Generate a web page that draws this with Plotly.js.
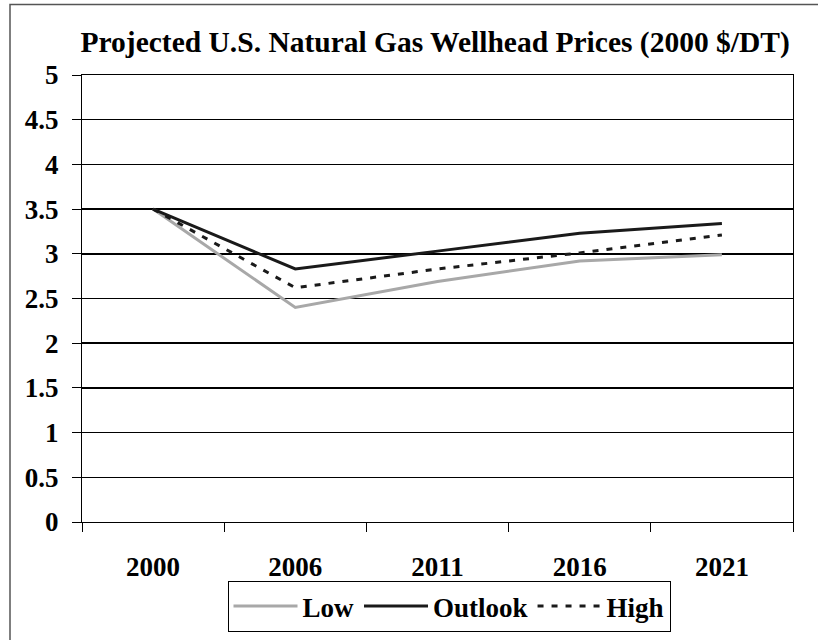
<!DOCTYPE html>
<html>
<head>
<meta charset="utf-8">
<script src="https://cdn.plot.ly/plotly-3.0.1.min.js"></script>
<style>
html,body{margin:0;padding:0;background:#fff;}
#chart{width:818px;height:640px;}
</style>
</head>
<body>
<div id="chart"></div>
<script>
const years = ["2000", "2006", "2011", "2016", "2021"];
const lowValues = [3.5, 2.40, 2.69, 2.92, 2.99];
const outlookValues = [3.5, 2.83, 3.03, 3.23, 3.34];
const highValues = [3.5, 2.62, 2.83, 3.01, 3.21];
const yTickValues = [0, 0.5, 1, 1.5, 2, 2.5, 3, 3.5, 4, 4.5, 5];
const yTickLabels = ["0", "0.5", "1", "1.5", "2", "2.5", "3", "3.5", "4", "4.5", "5"];

const serif = "Liberation Serif, Times New Roman, serif";

const traces = [
  {x: years, y: lowValues, name: "Low", type: "scatter", mode: "lines",
   line: {color: "#a8a8a8", width: 3}},
  {x: years, y: outlookValues, name: "Outlook", type: "scatter", mode: "lines",
   line: {color: "#1a1a1a", width: 3}},
  {x: years, y: highValues, name: "High", type: "scatter", mode: "lines",
   line: {color: "#1a1a1a", width: 3, dash: "6px,8px"}}
];

const layout = {
  width: 818, height: 640,
  paper_bgcolor: "#fff", plot_bgcolor: "#fff",
  margin: {l: 82, r: 25, t: 75, b: 118},
  showlegend: true,
  title: {text: "<b>Projected U.S. Natural Gas Wellhead Prices (2000 $/DT)</b>",
          font: {family: serif, size: 29.5, color: "#000"},
          x: 0.532, xanchor: "center", y: 0.935, yanchor: "middle"},
  xaxis: {type: "category", range: [-0.5, 4.5], tickson: "boundaries", automargin: false,
          ticks: "outside", ticklen: 9, tickcolor: "#000", tickwidth: 1,
          showline: true, linecolor: "#000", linewidth: 1, mirror: true,
          showgrid: false, zeroline: false, ticklabelstandoff: 21,
          tickfont: {family: serif, size: 27, color: "#000", weight: "bold"}},
  yaxis: {range: [0, 5], tickvals: yTickValues, ticktext: yTickLabels, automargin: false,
          ticks: "outside", ticklen: 9, tickcolor: "#000", tickwidth: 1,
          showline: true, linecolor: "#000", linewidth: 1, mirror: true,
          showgrid: true, gridcolor: "#000", gridwidth: 1.5, zeroline: false,
          ticklabelstandoff: 8,
          tickfont: {family: serif, size: 27, color: "#000", weight: "bold"}},
  legend: {orientation: "h", xref: "container", yref: "container",
           x: 449 / 818, xanchor: "center", y: 1 - 581 / 640, yanchor: "top",
           bgcolor: "#fff", bordercolor: "#000", borderwidth: 1,
           font: {family: serif, size: 27, color: "#000", weight: "bold"},
           traceorder: "normal", itemwidth: 64, tracegroupgap: 0},
  shapes: [
    {type: "rect", xref: "paper", yref: "paper",
     x0: (10 - 82) / 711, x1: (840 - 82) / 711,
     y0: (522 - 680) / 447, y1: (522 - 4.5) / 447,
     line: {color: "#555", width: 1.5}, fillcolor: "rgba(0,0,0,0)", layer: "below"}
  ]
};

Plotly.newPlot("chart", traces, layout, {displayModeBar: false, staticPlot: true});
</script>
</body>
</html>
